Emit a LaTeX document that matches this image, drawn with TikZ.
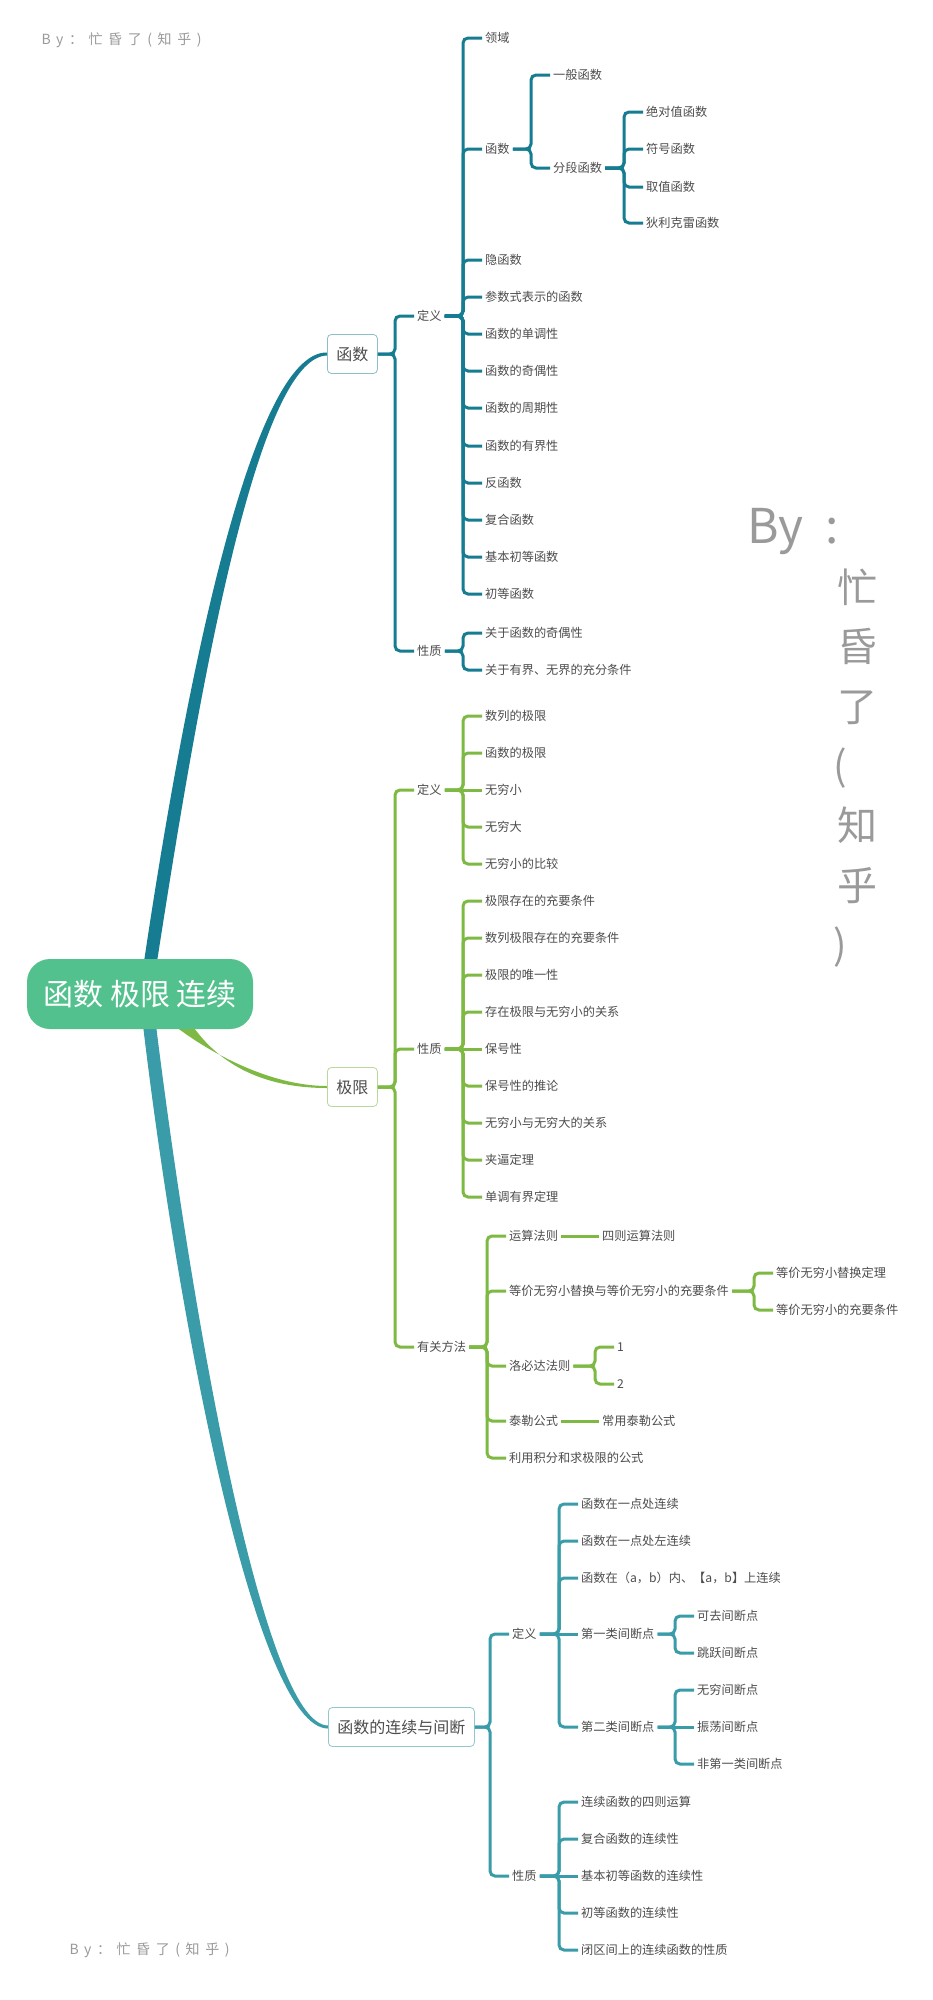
\documentclass[tikz,border=0pt]{standalone}
\usepackage{fontspec}
\setmainfont{Noto Sans CJK SC}
\newfontfamily\wmfont[LetterSpace=40]{Noto Sans CJK SC}
\usetikzlibrary{backgrounds}

\definecolor{hscol}{HTML}{167C91}
\definecolor{jxcol}{HTML}{7DB943}
\definecolor{lxcol}{HTML}{399CA8}
\definecolor{rootcol}{HTML}{52C18D}
\definecolor{hsbox}{HTML}{8DBFCB}
\definecolor{jxbox}{HTML}{B9D99A}
\definecolor{lxbox}{HTML}{93C7CE}
\definecolor{txtgray}{HTML}{4D4D4D}
\definecolor{wmgray}{HTML}{9A9A9A}

\begin{document}
\begin{tikzpicture}[x=1pt, y=-1pt,
        every node/.style={text=txtgray},
        root/.style={fill=rootcol, text=white, rounded corners=23pt, minimum width=226pt, minimum height=70pt, font=\fontsize{30}{34}\selectfont},
        topic/.style={draw, fill=white, rounded corners=4pt, line width=0.8pt, anchor=west, inner xsep=9pt, minimum height=39pt, font=\fontsize{16}{18}\selectfont},
        leaf/.style={anchor=west, inner xsep=3pt, inner ysep=2pt, font=\fontsize{12.2}{14}\selectfont},
        link/.style={line width=3pt, rounded corners=5pt},
        hsline/.style={link, draw=hscol},
        jxline/.style={link, draw=jxcol},
        lxline/.style={link, draw=lxcol},
        elbow/.style={to path={-| ([xshift=-19pt]\tikztotarget.west) -- (\tikztotarget.west)}},
        wm/.style={anchor=west, text=wmgray, font=\wmfont\fontsize{14}{16}\selectfont},
        wmbig/.style={text=wmgray, font=\fontsize{40}{59.6}\selectfont}
      ]
        \useasboundingbox (0,0) rectangle (933,2000);

        \node[root] (root) at (140,994) {函数 极限 连续};

        % 函数
        \node[topic, draw=hsbox] (hs) at (327,354) {函数};
        \node[leaf] (hs-dy) at (414,316) {定义};
        \node[leaf] (hs-xz) at (414,651) {性质};
        \node[leaf] (hs-ly) at (482,38) {领域};
        \node[leaf] (hs-hs) at (482,149) {函数};
        \node[leaf] (hs-ybhs) at (550,75) {一般函数};
        \node[leaf] (hs-fdhs) at (550,168) {分段函数};
        \node[leaf] (hs-jdz) at (643,112) {绝对值函数};
        \node[leaf] (hs-fh) at (643,149) {符号函数};
        \node[leaf] (hs-qz) at (643,187) {取值函数};
        \node[leaf] (hs-dlkl) at (643,223) {狄利克雷函数};
        \node[leaf] (hs-yhs) at (482,260) {隐函数};
        \node[leaf] (hs-csz) at (482,297) {参数式表示的函数};
        \node[leaf] (hs-ddx) at (482,334) {函数的单调性};
        \node[leaf] (hs-jox) at (482,371) {函数的奇偶性};
        \node[leaf] (hs-zqx) at (482,408) {函数的周期性};
        \node[leaf] (hs-yjx) at (482,446) {函数的有界性};
        \node[leaf] (hs-fan) at (482,483) {反函数};
        \node[leaf] (hs-fuhe) at (482,520) {复合函数};
        \node[leaf] (hs-jbcd) at (482,557) {基本初等函数};
        \node[leaf] (hs-cd) at (482,594) {初等函数};
        \node[leaf] (hs-xz1) at (482,633) {关于函数的奇偶性};
        \node[leaf] (hs-xz2) at (482,670) {关于有界、无界的充分条件};

        % 极限
        \node[topic, draw=jxbox] (jx) at (327,1087) {极限};
        \node[leaf] (jx-dy) at (414,790) {定义};
        \node[leaf] (jx-xz) at (414,1049) {性质};
        \node[leaf] (jx-ff) at (414,1347) {有关方法};
        \node[leaf] (jx-sl) at (482,716) {数列的极限};
        \node[leaf] (jx-hs) at (482,753) {函数的极限};
        \node[leaf] (jx-wqx) at (482,790) {无穷小};
        \node[leaf] (jx-wqd) at (482,827) {无穷大};
        \node[leaf] (jx-bj) at (482,864) {无穷小的比较};
        \node[leaf] (jx-cy) at (482,901) {极限存在的充要条件};
        \node[leaf] (jx-slcy) at (482,938) {数列极限存在的充要条件};
        \node[leaf] (jx-wy) at (482,975) {极限的唯一性};
        \node[leaf] (jx-gx) at (482,1012) {存在极限与无穷小的关系};
        \node[leaf] (jx-bhx) at (482,1049) {保号性};
        \node[leaf] (jx-bhtl) at (482,1086) {保号性的推论};
        \node[leaf] (jx-wqgx) at (482,1123) {无穷小与无穷大的关系};
        \node[leaf] (jx-jb) at (482,1160) {夹逼定理};
        \node[leaf] (jx-ddyj) at (482,1197) {单调有界定理};
        \node[leaf] (jx-ys) at (506,1236) {运算法则};
        \node[leaf] (jx-sz) at (599,1236) {四则运算法则};
        \node[leaf] (jx-dj) at (506,1291) {等价无穷小替换与等价无穷小的充要条件};
        \node[leaf] (jx-dj1) at (773,1273) {等价无穷小替换定理};
        \node[leaf] (jx-dj2) at (773,1310) {等价无穷小的充要条件};
        \node[leaf] (jx-lbd) at (506,1366) {洛必达法则};
        \node[leaf] (jx-lbd1) at (614,1347) {1};
        \node[leaf] (jx-lbd2) at (614,1384) {2};
        \node[leaf] (jx-tlgs) at (506,1421) {泰勒公式};
        \node[leaf] (jx-cytl) at (599,1421) {常用泰勒公式};
        \node[leaf] (jx-jf) at (506,1458) {利用积分和求极限的公式};

        % 函数的连续与间断
        \node[topic, draw=lxbox] (lx) at (328,1727) {函数的连续与间断};
        \node[leaf] (lx-dy) at (509,1634) {定义};
        \node[leaf] (lx-xz) at (509,1876) {性质};
        \node[leaf] (lx-dlx) at (578,1504) {函数在一点处连续};
        \node[leaf] (lx-zlx) at (578,1541) {函数在一点处左连续};
        \node[leaf] (lx-ab) at (578,1578) {函数在（a，b）内、【a，b】上连续};
        \node[leaf] (lx-d1) at (578,1634) {第一类间断点};
        \node[leaf] (lx-kq) at (694,1616) {可去间断点};
        \node[leaf] (lx-ty) at (694,1653) {跳跃间断点};
        \node[leaf] (lx-d2) at (578,1727) {第二类间断点};
        \node[leaf] (lx-wq) at (694,1690) {无穷间断点};
        \node[leaf] (lx-zd) at (694,1727) {振荡间断点};
        \node[leaf] (lx-fd) at (694,1764) {非第一类间断点};
        \node[leaf] (lx-sz) at (578,1802) {连续函数的四则运算};
        \node[leaf] (lx-fh) at (578,1839) {复合函数的连续性};
        \node[leaf] (lx-jb) at (578,1876) {基本初等函数的连续性};
        \node[leaf] (lx-cd) at (578,1913) {初等函数的连续性};
        \node[leaf] (lx-bq) at (578,1950) {闭区间上的连续函数的性质};

        % watermarks
        \node[wm] (wm-top) at (38,40) {By：忙昏了(知乎)};
        \node[wm] (wm-bot) at (66,1950) {By：忙昏了(知乎)};
        \node[wmbig, anchor=base west, font=\fontsize{48}{50}\selectfont] (wm-by) at (744,543) {By\hspace{22pt}:};
        \node[wmbig, align=center] (wm-col) at (857,768) {忙\\昏\\了\\\hspace*{-34pt}(\\知\\乎\\\hspace*{-34pt})};

        % links of 函数
        \draw[hsline] (hs.east) to[elbow] (hs-dy);
        \draw[hsline] (hs.east) to[elbow] (hs-xz);
        \draw[hsline] (hs-dy.east) to[elbow] (hs-ly);
        \draw[hsline] (hs-dy.east) to[elbow] (hs-hs);
        \draw[hsline] (hs-dy.east) to[elbow] (hs-yhs);
        \draw[hsline] (hs-dy.east) to[elbow] (hs-csz);
        \draw[hsline] (hs-dy.east) to[elbow] (hs-ddx);
        \draw[hsline] (hs-dy.east) to[elbow] (hs-jox);
        \draw[hsline] (hs-dy.east) to[elbow] (hs-zqx);
        \draw[hsline] (hs-dy.east) to[elbow] (hs-yjx);
        \draw[hsline] (hs-dy.east) to[elbow] (hs-fan);
        \draw[hsline] (hs-dy.east) to[elbow] (hs-fuhe);
        \draw[hsline] (hs-dy.east) to[elbow] (hs-jbcd);
        \draw[hsline] (hs-dy.east) to[elbow] (hs-cd);
        \draw[hsline] (hs-hs.east) to[elbow] (hs-ybhs);
        \draw[hsline] (hs-hs.east) to[elbow] (hs-fdhs);
        \draw[hsline] (hs-fdhs.east) to[elbow] (hs-jdz);
        \draw[hsline] (hs-fdhs.east) to[elbow] (hs-fh);
        \draw[hsline] (hs-fdhs.east) to[elbow] (hs-qz);
        \draw[hsline] (hs-fdhs.east) to[elbow] (hs-dlkl);
        \draw[hsline] (hs-xz.east) to[elbow] (hs-xz1);
        \draw[hsline] (hs-xz.east) to[elbow] (hs-xz2);

        % links of 极限
        \draw[jxline] (jx.east) to[elbow] (jx-dy);
        \draw[jxline] (jx.east) to[elbow] (jx-xz);
        \draw[jxline] (jx.east) to[elbow] (jx-ff);
        \draw[jxline] (jx-dy.east) to[elbow] (jx-sl);
        \draw[jxline] (jx-dy.east) to[elbow] (jx-hs);
        \draw[jxline] (jx-dy.east) -- (jx-wqx.west);
        \draw[jxline] (jx-dy.east) to[elbow] (jx-wqd);
        \draw[jxline] (jx-dy.east) to[elbow] (jx-bj);
        \draw[jxline] (jx-xz.east) to[elbow] (jx-cy);
        \draw[jxline] (jx-xz.east) to[elbow] (jx-slcy);
        \draw[jxline] (jx-xz.east) to[elbow] (jx-wy);
        \draw[jxline] (jx-xz.east) to[elbow] (jx-gx);
        \draw[jxline] (jx-xz.east) -- (jx-bhx.west);
        \draw[jxline] (jx-xz.east) to[elbow] (jx-bhtl);
        \draw[jxline] (jx-xz.east) to[elbow] (jx-wqgx);
        \draw[jxline] (jx-xz.east) to[elbow] (jx-jb);
        \draw[jxline] (jx-xz.east) to[elbow] (jx-ddyj);
        \draw[jxline] (jx-ff.east) to[elbow] (jx-ys);
        \draw[jxline] (jx-ff.east) to[elbow] (jx-dj);
        \draw[jxline] (jx-ff.east) to[elbow] (jx-lbd);
        \draw[jxline] (jx-ff.east) to[elbow] (jx-tlgs);
        \draw[jxline] (jx-ff.east) to[elbow] (jx-jf);
        \draw[jxline] (jx-ys.east) -- (jx-sz.west);
        \draw[jxline] (jx-dj.east) to[elbow] (jx-dj1);
        \draw[jxline] (jx-dj.east) to[elbow] (jx-dj2);
        \draw[jxline] (jx-lbd.east) to[elbow] (jx-lbd1);
        \draw[jxline] (jx-lbd.east) to[elbow] (jx-lbd2);
        \draw[jxline] (jx-tlgs.east) -- (jx-cytl.west);

        % links of 函数的连续与间断
        \draw[lxline] (lx.east) to[elbow] (lx-dy);
        \draw[lxline] (lx.east) to[elbow] (lx-xz);
        \draw[lxline] (lx-dy.east) to[elbow] (lx-dlx);
        \draw[lxline] (lx-dy.east) to[elbow] (lx-zlx);
        \draw[lxline] (lx-dy.east) to[elbow] (lx-ab);
        \draw[lxline] (lx-dy.east) -- (lx-d1.west);
        \draw[lxline] (lx-dy.east) to[elbow] (lx-d2);
        \draw[lxline] (lx-d1.east) to[elbow] (lx-kq);
        \draw[lxline] (lx-d1.east) to[elbow] (lx-ty);
        \draw[lxline] (lx-d2.east) to[elbow] (lx-wq);
        \draw[lxline] (lx-d2.east) -- (lx-zd.west);
        \draw[lxline] (lx-d2.east) to[elbow] (lx-fd);
        \draw[lxline] (lx-xz.east) to[elbow] (lx-sz);
        \draw[lxline] (lx-xz.east) to[elbow] (lx-fh);
        \draw[lxline] (lx-xz.east) -- (lx-jb.west);
        \draw[lxline] (lx-xz.east) to[elbow] (lx-cd);
        \draw[lxline] (lx-xz.east) to[elbow] (lx-bq);

        % tapered branches from the centre
        \begin{scope}[on background layer]
          \fill[white] (0,0) rectangle (933,2000);
          \fill[hscol] ([shift={(4,3)}]root.north) .. controls +(39,-262) and +(-77,-1.5) .. ([shift={(0,-1.5)}]hs.west)
            -- ([shift={(0,1.5)}]hs.west) .. controls +(-71,1.5) and +(40,-258) .. ([shift={(17,3)}]root.north) -- cycle;
          \fill[jxcol] ([shift={(30,-7)}]root.south) .. controls +(40,32) and +(-55,0) .. ([shift={(0,-1)}]jx.west)
            -- ([shift={(0,1)}]jx.west) .. controls +(-60,0) and +(30,45) .. ([shift={(50,-7)}]root.south) -- cycle;
          \fill[lxcol] ([shift={(3,-4)}]root.south) .. controls +(35,295) and +(-72,0) .. ([shift={(0,1.5)}]lx.west)
            -- ([shift={(0,-1.5)}]lx.west) .. controls +(-64,0) and +(36,290) .. ([shift={(16,-4)}]root.south) -- cycle;
        \end{scope}

    \end{tikzpicture}
\end{document}
